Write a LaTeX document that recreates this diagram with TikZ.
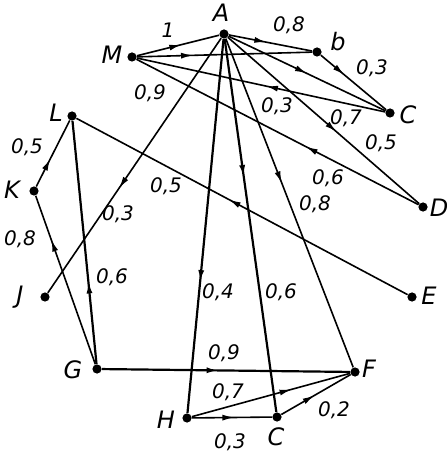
\documentclass[tikz,border=0pt]{standalone}
\usepackage{fontspec}
\setsansfont{DejaVu Sans}
\usepackage{tikz}
\usetikzlibrary{arrows.meta,decorations.markings}

\begin{document}
\begin{tikzpicture}[
    x=0.5pt, y=-0.5pt,
    vert/.style={circle, fill, inner sep=0pt, minimum size=4.6pt},
    lbl/.style={font=\sffamily\itshape\large},
    wt/.style={font=\sffamily\itshape\fontsize{10}{11}\selectfont},
    edge/.style={line width=0.8pt},
    heavy/.style={line width=1.1pt},
    flow/.style={postaction={decorate}, decoration={markings,
        mark=at position #1 with {\arrow{Latex[length=6pt,width=3pt]}}}},
]
\useasboundingbox (0,0) rectangle (446,458);

% --- vertices ---
\node[vert] (A) at (224,34) {};
\node[vert] (B) at (317,52) {};
\node[vert] (C) at (390,113) {};
\node[vert] (D) at (423,207) {};
\node[vert] (E) at (412,297) {};
\node[vert] (F) at (355,372) {};
\node[vert] (G) at (97,369) {};
\node[vert] (H) at (187,418) {};
\node[vert] (I) at (277,417) {};
\node[vert] (J) at (45,297) {};
\node[vert] (K) at (34,191) {};
\node[vert] (L) at (72,116) {};
\node[vert] (M) at (132,57) {};

% --- vertex names ---
\node[lbl] (nA) at (221,13) {A};
\node[lbl] (nB) at (338,42) {b};
\node[lbl] (nC) at (408,115) {C};
\node[lbl] (nD) at (439,208) {D};
\node[lbl] (nE) at (429,296) {E};
\node[lbl] (nF) at (369,369) {F};
\node[lbl] (nG) at (73,370) {G};
\node[lbl] (nH) at (166,420) {H};
\node[lbl] (nI) at (276,437) {C};
\node[lbl] (nJ) at (20,297) {J};
\node[lbl] (nK) at (12,190) {K};
\node[lbl] (nL) at (56,113) {L};
\node[lbl] (nM) at (112,55) {M};

% --- top fan ---
\draw[edge, flow=0.54] (M) -- (A);
\draw[edge, flow=0.32] (M) -- (B);
\draw[edge, flow=0.45] (A) -- (B);
\draw[edge, flow=0.36] (B) -- (C);
\draw[edge, flow=0.5] (A) -- (C);
\draw[edge, flow=0.48] (C) -- (M);
\draw[edge, flow=0.57] (A) -- (D);
\draw[edge, flow=0.40] (D) -- (M);

% --- left side ---
\draw[edge, flow=0.54] (E) -- (L);
\draw[edge, flow=0.59] (A) -- (J);
\draw[edge, flow=0.42] (K) -- (L);
\draw[edge, flow=0.74] (G) -- (K);
\draw[heavy, flow=0.34] (G) -- (L);

% --- down from A ---
\draw[heavy, flow=0.65] (A) -- (H);
\draw[heavy, flow=0.37] (A) -- (I);
\draw[edge, flow=0.44] (A) -- (F);

% --- bottom ---
\draw[heavy, flow=0.47] (G) -- (F);
\draw[edge, flow=0.63] (H) -- (F);
\draw[edge, flow=0.53] (H) -- (I);
\draw[edge, flow=0.48] (I) -- (F);

% --- weights ---
\node[wt] (wMA) at (168,30) {1};
\node[wt] (wAB) at (289,25) {0,8};
\node[wt] (wBC) at (372,68) {0,3};
\node[wt] (wMD) at (150,93) {0,9};
\node[wt] (wCM) at (277,106) {0,3};
\node[wt] (wAC) at (346,118) {0,7};
\node[wt] (wAD) at (381,143) {0,5};
\node[wt] (wDM) at (328,178) {0,6};
\node[wt] (wAF) at (315,204) {0,8};
\node[wt] (wEL) at (166,186) {0,5};
\node[wt] (wAJ) at (118,214) {0,3};
\node[wt] (wKL) at (27,147) {0,5};
\node[wt] (wGK) at (20,239) {0,8};
\node[wt] (wGL) at (112,277) {0,6};
\node[wt] (wAH) at (218,292) {0,4};
\node[wt] (wAI) at (281,292) {0,6};
\node[wt] (wGF) at (224,353) {0,9};
\node[wt] (wHF) at (228,392) {0,7};
\node[wt] (wHI) at (230,442) {0,3};
\node[wt] (wIF) at (334,410) {0,2};
\end{tikzpicture}
\end{document}
